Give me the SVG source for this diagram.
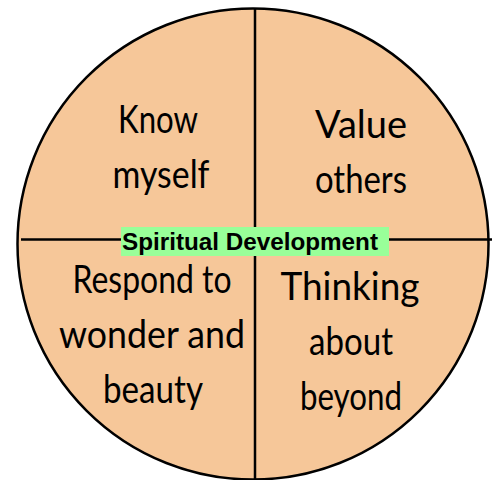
<svg xmlns="http://www.w3.org/2000/svg" width="495" height="480" viewBox="0 0 495 480">
<style>
.q{font-family:Lato,"Open Sans","Liberation Sans",sans-serif;font-size:39px;fill:#000;text-anchor:middle}
.ln{stroke:#000;stroke-width:2.5;fill:none}
.lbl{font-family:"Liberation Sans",Arial,sans-serif;font-size:24px;font-weight:bold;fill:#000}
</style>
<rect width="495" height="480" fill="#fff"/>
<g id="circle">
<circle cx="253" cy="244" r="235.5" fill="#F6C799" stroke="#000" stroke-width="2.5"/>
</g>
<g id="connectors">
<line class="ln" x1="255" y1="9" x2="255" y2="480"/>
<line class="ln" x1="21" y1="239.5" x2="492" y2="239.5"/>
</g>
<g id="know-myself">
<text class="q" x="158" y="133" textLength="80" lengthAdjust="spacingAndGlyphs">Know</text>
<text class="q" x="161" y="188" textLength="97" lengthAdjust="spacingAndGlyphs">myself</text>
</g>
<g id="value-others">
<text class="q" x="361" y="138" textLength="92" lengthAdjust="spacingAndGlyphs">Value</text>
<text class="q" x="361" y="193" textLength="92" lengthAdjust="spacingAndGlyphs">others</text>
</g>
<g id="respond">
<text class="q" x="152" y="293" textLength="159" lengthAdjust="spacingAndGlyphs">Respond to</text>
<text class="q" x="152" y="348" textLength="186" lengthAdjust="spacingAndGlyphs">wonder and</text>
<text class="q" x="153" y="403" textLength="100" lengthAdjust="spacingAndGlyphs">beauty</text>
</g>
<g id="thinking">
<text class="q" x="350" y="300" textLength="139" lengthAdjust="spacingAndGlyphs">Thinking</text>
<text class="q" x="351" y="355" textLength="84" lengthAdjust="spacingAndGlyphs">about</text>
<text class="q" x="351" y="410" textLength="102" lengthAdjust="spacingAndGlyphs">beyond</text>
</g>
<g id="spiritual-development">
<rect x="121" y="227" width="268" height="29" fill="#99FF99"/>
<text class="lbl" x="122" y="249.5" textLength="256" lengthAdjust="spacingAndGlyphs">Spiritual Development</text>
</g>
</svg>
